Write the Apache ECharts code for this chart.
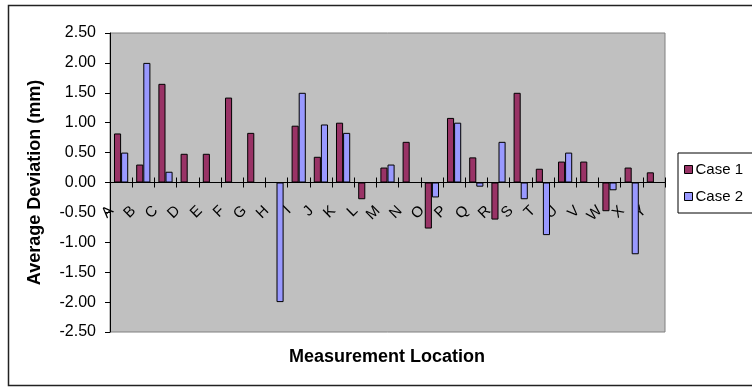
<!DOCTYPE html>
<html>
<head>
<meta charset="utf-8">
<script src="https://cdn.jsdelivr.net/npm/echarts@6/dist/echarts.min.js"></script>
<style>
html,body{margin:0;padding:0;background:#fff;}
#chart{width:752px;height:387px;}
</style>
</head>
<body>
<div id="chart"></div>
<script>
const categories = ['A','B','C','D','E','F','G','H','I','J','K','L','M','N','O','P','Q','R','S','T','U','V','W','X','Y'];
const case1 = [0.82, 0.30, 1.65, 0.48, 0.48, 1.42, 0.83, null, 0.95, 0.43, 1.00, -0.28, 0.25, 0.68, -0.77, 1.08, 0.42, -0.62, 1.50, 0.23, 0.35, 0.35, -0.48, 0.25, 0.17];
const case2 = [0.50, 2.00, 0.18, null, null, null, null, -2.00, 1.50, 0.97, 0.83, null, 0.30, null, -0.25, 1.00, -0.07, 0.68, -0.28, -0.88, 0.50, null, -0.13, -1.20, null];
const seriesNames = ['Case 1', 'Case 2'];
const yTicks = {min: -2.5, max: 2.5, step: 0.5};

const chart = echarts.init(document.getElementById('chart'));
const FONT = 'Liberation Sans, Arial, sans-serif';
const gridTop = 33, gridBottom = 55, H = 387;
const plotH = H - gridTop - gridBottom;
const zeroFromEdge = plotH * (yTicks.max / (yTicks.max - yTicks.min));
chart.setOption({
  animation: false,
  backgroundColor: '#ffffff',
  grid: {left: 110, right: 87, top: gridTop, bottom: gridBottom, show: true, backgroundColor: '#C0C0C0', borderColor: '#808080', borderWidth: 1},
  legend: {
    orient: 'vertical', left: 678, top: 153,
    backgroundColor: '#ffffff', borderColor: '#000', borderWidth: 1,
    padding: [9, 40, 9, 6], itemWidth: 8, itemHeight: 8, itemGap: 12,
    icon: 'rect',
    itemStyle: {borderColor: '#000', borderWidth: 1},
    textStyle: {fontFamily: FONT, fontSize: 15, color: '#000', padding: [0, 0, 0, -2]},
    data: seriesNames
  },
  xAxis: [{
    type: 'category', data: categories, position: 'bottom', offset: -zeroFromEdge,
    axisLine: {onZero: false, lineStyle: {color: '#000', width: 1}},
    axisTick: {show: true, interval: 0, alignWithLabel: false, length: 5, lineStyle: {color: '#000'}},
    axisLabel: {interval: 0, rotate: 45, margin: 16, fontFamily: FONT, fontSize: 15, color: '#000', padding: [0, 14, 0, 0]},
    splitLine: {show: false}
  }, {
    type: 'category', data: categories, position: 'top', offset: -zeroFromEdge,
    axisLine: {onZero: false, lineStyle: {color: '#000', width: 1}},
    axisTick: {show: true, interval: 0, alignWithLabel: false, length: 5, lineStyle: {color: '#000'}},
    axisLabel: {show: false},
    splitLine: {show: false}
  }],
  yAxis: {
    type: 'value', min: yTicks.min, max: yTicks.max, interval: yTicks.step,
    name: 'Average Deviation (mm)', nameLocation: 'middle', nameGap: 66,
    nameTextStyle: {fontFamily: FONT, fontSize: 18, fontWeight: 'bold', color: '#000'},
    axisLine: {show: true, onZero: false, lineStyle: {color: '#000', width: 1}},
    axisTick: {show: true, length: 5, lineStyle: {color: '#000'}},
    axisLabel: {margin: 14, fontFamily: FONT, fontSize: 16, color: '#000', formatter: v => v.toFixed(2)},
    splitLine: {show: false}
  },
  series: [{
    name: seriesNames[0], type: 'bar', data: case1, xAxisIndex: 0,
    barGap: '0%', barCategoryGap: '36%',
    itemStyle: {color: '#993366', borderColor: '#000', borderWidth: 1}
  }, {
    name: seriesNames[1], type: 'bar', data: case2, xAxisIndex: 0,
    barGap: '0%', barCategoryGap: '36%',
    itemStyle: {color: '#9999FF', borderColor: '#000', borderWidth: 1}
  }],
  graphic: [{
    type: 'rect', silent: true, z: -10,
    shape: {x: 8.5, y: 5.5, width: 760, height: 380},
    style: {fill: null, stroke: '#222', lineWidth: 1.5}
  }, {
    type: 'text', silent: true,
    x: 387, y: 357,
    style: {text: 'Measurement Location', font: 'bold 18px Liberation Sans, Arial, sans-serif', fill: '#000', textAlign: 'center', textVerticalAlign: 'middle'}
  }]
});
</script>
</body>
</html>
